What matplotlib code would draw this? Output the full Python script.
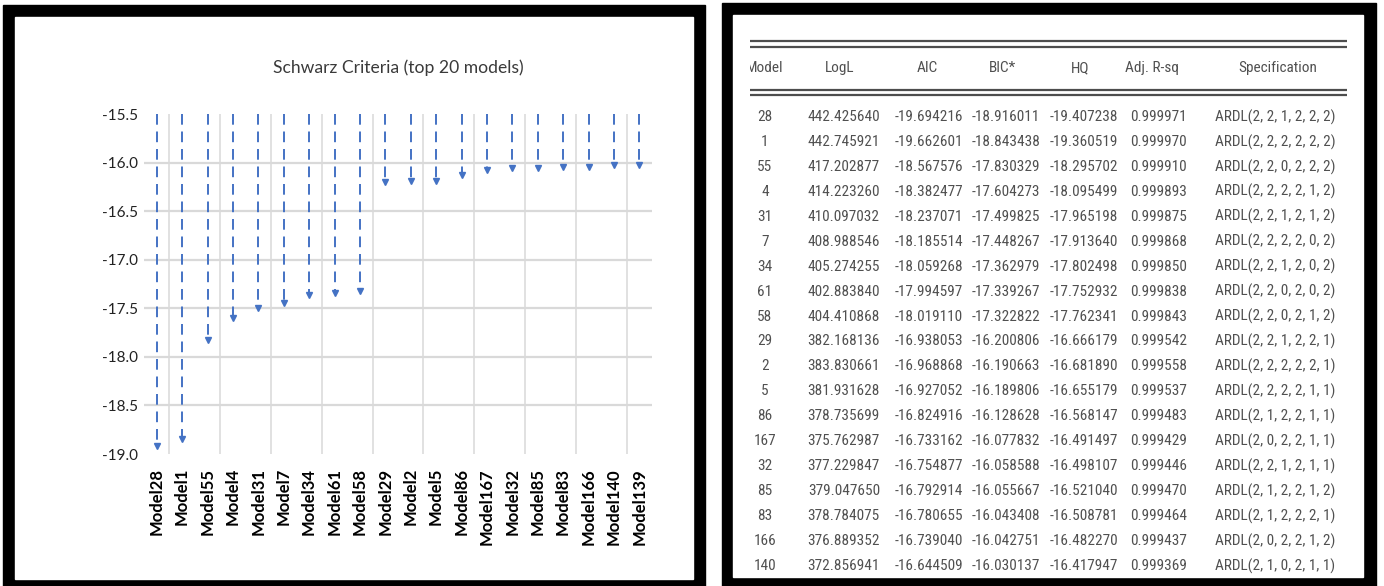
import numpy as np
import matplotlib
matplotlib.use("Agg")
import matplotlib.pyplot as plt
from matplotlib.patches import Rectangle
from matplotlib import font_manager

# data
model_ids = [28, 1, 55, 4, 31, 7, 34, 61, 58, 29, 2, 5, 86, 167, 32, 85, 83, 166, 140, 139]
bic = [-18.916011, -18.843438, -17.830329, -17.604273, -17.499825, -17.448267,
       -17.362979, -17.339267, -17.322822, -16.200806, -16.190663, -16.189806,
       -16.128628, -16.077832, -16.058588, -16.055667, -16.043408, -16.042751,
       -16.030137, -16.020000]
logl = [442.425640, 442.745921, 417.202877, 414.223260, 410.097032, 408.988546,
        405.274255, 402.883840, 404.410868, 382.168136, 383.830661, 381.931628,
        378.735699, 375.762987, 377.229847, 379.047650, 378.784075, 376.889352,
        372.856941]
aic = [-19.694216, -19.662601, -18.567576, -18.382477, -18.237071, -18.185514,
       -18.059268, -17.994597, -18.019110, -16.938053, -16.968868, -16.927052,
       -16.824916, -16.733162, -16.754877, -16.792914, -16.780655, -16.739040,
       -16.644509]
hq = [-19.407238, -19.360519, -18.295702, -18.095499, -17.965198, -17.913640,
      -17.802498, -17.752932, -17.762341, -16.666179, -16.681890, -16.655179,
      -16.568147, -16.491497, -16.498107, -16.521040, -16.508781, -16.482270,
      -16.417947]
adj_r2 = [0.999971, 0.999970, 0.999910, 0.999893, 0.999875, 0.999868, 0.999850,
          0.999838, 0.999843, 0.999542, 0.999558, 0.999537, 0.999483, 0.999429,
          0.999446, 0.999470, 0.999464, 0.999437, 0.999369]
spec = ["ARDL(2, 2, 1, 2, 2, 2)", "ARDL(2, 2, 2, 2, 2, 2)", "ARDL(2, 2, 0, 2, 2, 2)",
        "ARDL(2, 2, 2, 2, 1, 2)", "ARDL(2, 2, 1, 2, 1, 2)", "ARDL(2, 2, 2, 2, 0, 2)",
        "ARDL(2, 2, 1, 2, 0, 2)", "ARDL(2, 2, 0, 2, 0, 2)", "ARDL(2, 2, 0, 2, 1, 2)",
        "ARDL(2, 2, 1, 2, 2, 1)", "ARDL(2, 2, 2, 2, 2, 1)", "ARDL(2, 2, 2, 2, 1, 1)",
        "ARDL(2, 1, 2, 2, 1, 1)", "ARDL(2, 0, 2, 2, 1, 1)", "ARDL(2, 2, 1, 2, 1, 1)",
        "ARDL(2, 1, 2, 2, 1, 2)", "ARDL(2, 1, 2, 2, 2, 1)", "ARDL(2, 0, 2, 2, 1, 2)",
        "ARDL(2, 1, 0, 2, 1, 1)"]
headers = ["Model", "LogL", "AIC", "BIC*", "HQ", "Adj. R-sq", "Specification"]
yticks = [-19.0, -18.5, -18.0, -17.5, -17.0, -16.5, -16.0, -15.5]

W, H = 1384, 586
names = {f.name for f in font_manager.fontManager.ttflist}
chartfont = "Lato" if "Lato" in names else "DejaVu Sans"
# narrow face for the table if there is one, else a compact sans at a smaller size
narrow, tsize = "Roboto", 9.6
for cand in ["Liberation Sans Narrow", "DejaVu Sans Condensed", "Roboto Condensed"]:
    if cand in names:
        narrow, tsize = cand, 12 if "Narrow" in cand else 11
        break
blue = "#4472C4"

fig = plt.figure(figsize=(W / 100, H / 100), dpi=100)
fig.patch.set_facecolor("white")

# background frames (pixel coords)
bg = fig.add_axes([0, 0, 1, 1])
bg.set_xlim(0, W)
bg.set_ylim(H, 0)
bg.axis("off")
bg.add_patch(Rectangle((3, 5), 702, 590, color="black"))
bg.add_patch(Rectangle((15, 17), 678, 562, color="white"))
bg.add_patch(Rectangle((722, 3), 654, 590, color="black"))
bg.add_patch(Rectangle((733, 15), 630, 562, color="white"))

# chart
ax = fig.add_axes([144 / W, (H - 454) / H, 508 / W, 340 / H])
ax.set_facecolor("none")
x = np.arange(len(model_ids))
for xi in x[::2]:
    ax.axvline(xi + 0.5, color="#d9d9d9", lw=1.1, zorder=0)
for yt in yticks[1:-1]:
    ax.axhline(yt, color="#d9d9d9", lw=1.6, zorder=0)
for xi, v in zip(x, bic):
    ax.plot([xi, xi], [yticks[-1], v], color=blue, lw=1.4,
            linestyle=(0, (5.5, 3.5)), zorder=2)
ax.plot(x, bic, "v", color=blue, ms=4, zorder=3, clip_on=False)
ax.set_xlim(-0.5, len(model_ids) - 0.5)
ax.set_ylim(yticks[0], yticks[-1])
ax.set_yticks(yticks, [f"{t:.1f}" for t in yticks], fontsize=11, family=chartfont,
              color="#222222")
ax.set_xticks(x, [f"Model{m}" for m in model_ids], rotation=90, fontsize=12,
              fontweight="bold", family=chartfont)
ax.tick_params(length=0)
ax.tick_params(axis="x", pad=10)
ax.tick_params(axis="y", pad=4)
for s in ax.spines.values():
    s.set_visible(False)
fig.text(398 / W, 1 - 68 / H, "Schwarz Criteria (top 20 models)", ha="center",
         va="center", fontsize=12.6, family=chartfont, color="#3a3a3a")

# table
tb = fig.add_axes([750 / W, (H - 575) / H, 597 / W, 557 / H])
tb.set_xlim(750, 1347)
tb.set_ylim(575, 18)
tb.axis("off")
line_c = "#4d4d4d"
for yl in (41, 46.5, 89.5, 95):
    tb.plot([750, 1347], [yl, yl], color=line_c, lw=1.6)
tkw = dict(family=narrow, fontsize=tsize, color="#505050", va="center", clip_on=True)
hx = [765, 840, 927, 1003, 1080, 1152, 1278]
for hxi, h in zip(hx, headers):
    tb.text(hxi, 68, h, ha="center", **tkw)
for i in range(len(logl)):
    yy = 117 + 24.94 * i
    tb.text(765, yy, str(model_ids[i]), ha="center", **tkw)
    tb.text(880, yy, f"{logl[i]:.6f}", ha="right", **tkw)
    tb.text(963, yy, f"{aic[i]:.6f}", ha="right", **tkw)
    tb.text(1040, yy, f"{bic[i]:.6f}", ha="right", **tkw)
    tb.text(1118, yy, f"{hq[i]:.6f}", ha="right", **tkw)
    tb.text(1187, yy, f"{adj_r2[i]:.6f}", ha="right", **tkw)
    tb.text(1215, yy, spec[i], ha="left", **tkw)

fig.savefig("out.png", dpi=100, facecolor="white")
